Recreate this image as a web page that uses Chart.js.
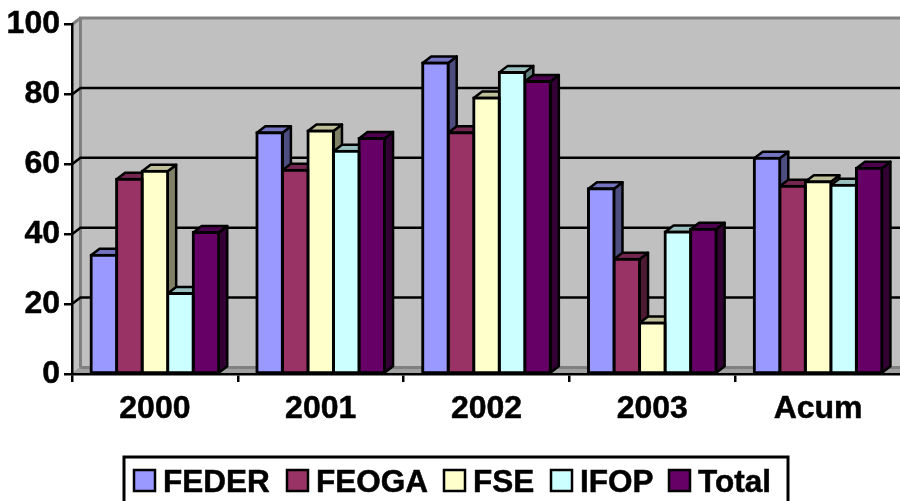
<!DOCTYPE html>
<html lang="en">

<head>
    <meta charset="UTF-8">
    <title>Chart</title>
    <style>
        html, body { margin: 0; padding: 0; background: #fff; overflow: hidden; }
        #wrap { width: 900px; height: 501px; overflow: hidden; }
    </style>
</head>

<body>
    <div id="wrap"><canvas id="myCanvas" width="911" height="501"></canvas></div>

    <script src="https://cdnjs.cloudflare.com/ajax/libs/Chart.js/4.4.1/chart.umd.js"></script>
    <script>
        const categories = ['2000', '2001', '2002', '2003', 'Acum'];
        const feder = [34, 69, 89, 53, 61.7];
        const feoga = [55.7, 58.3, 69, 32.8, 53.7];
        const fse = [58, 69.5, 79, 14.6, 55];
        const ifop = [23, 63.7, 86.3, 40.6, 54];
        const total = [40.5, 67.4, 83.7, 41.4, 58.9];

        const seriesNames = ['FEDER', 'FEOGA', 'FSE', 'IFOP', 'Total'];
        const seriesValues = [feder, feoga, fse, ifop, total];
        const front = ['#9999ff', '#993366', '#ffffcc', '#ccffff', '#660066'];
        const tops = ['#7373bf', '#732650', '#bfbf99', '#99bfbf', '#4d004d'];
        const sides = ['#4d4d80', '#4d1a33', '#808066', '#668080', '#330033'];

        // depth of the fake 3d
        const dx = 8.5;
        const dy = 6.5;
        const font = 'bold 31.5px "Liberation Sans", Arial, sans-serif';
        const legendBoxX = [134, 287, 444, 551, 669];

        function poly(ctx, pts, fill, stroke, lw) {
            ctx.beginPath();
            pts.forEach((p, i) => i ? ctx.lineTo(p[0], p[1]) : ctx.moveTo(p[0], p[1]));
            ctx.closePath();
            if (fill) { ctx.fillStyle = fill; ctx.fill(); }
            if (stroke) { ctx.strokeStyle = stroke; ctx.lineWidth = lw; ctx.stroke(); }
        }

        const walls = {
            id: 'walls',
            beforeDraw(chart) {
                const ctx = chart.ctx;
                const a = chart.chartArea;
                const y = chart.scales.y;
                ctx.save();
                // back wall, side wall, floor
                poly(ctx, [[a.left + dx, a.top - dy], [a.right + dx, a.top - dy], [a.right + dx, a.bottom - dy], [a.left + dx, a.bottom - dy]], '#c0c0c0');
                poly(ctx, [[a.left, a.top], [a.left + dx, a.top - dy], [a.left + dx, a.bottom - dy], [a.left, a.bottom]], '#c0c0c0', '#808080', 1);
                poly(ctx, [[a.left, a.bottom], [a.left + dx, a.bottom - dy], [a.right + dx, a.bottom - dy], [a.right, a.bottom]], '#a0a0a0');
                ctx.strokeStyle = '#808080';
                ctx.lineWidth = 3;
                ctx.beginPath();
                ctx.moveTo(a.left + dx, a.bottom - dy);
                ctx.lineTo(a.left + dx, a.top - dy);
                ctx.lineTo(a.right + dx, a.top - dy);
                ctx.moveTo(a.left + dx, a.bottom - dy);
                ctx.lineTo(a.right + dx, a.bottom - dy);
                ctx.moveTo(a.left, a.top);
                ctx.lineTo(a.left + dx, a.top - dy);
                ctx.stroke();
                // grid lines on the wall
                ctx.strokeStyle = '#000';
                ctx.lineWidth = 2.5;
                y.ticks.forEach(t => {
                    if (t.value === 0 || t.value === 100) return;
                    const py = y.getPixelForValue(t.value);
                    ctx.beginPath();
                    ctx.moveTo(a.left, py);
                    ctx.lineTo(a.left + dx, py - dy);
                    ctx.lineTo(a.right + dx, py - dy);
                    ctx.stroke();
                });
                ctx.restore();
            },
            // top and side faces, left to right, before any of the fronts
            beforeDatasetsDraw(chart) {
                const ctx = chart.ctx;
                ctx.save();
                ctx.lineJoin = 'round';
                seriesNames.forEach((name, i) => {
                    chart.getDatasetMeta(i).data.forEach(bar => {
                        const l = bar.x - bar.width / 2;
                        const r = bar.x + bar.width / 2;
                        const t = bar.y;
                        const b = bar.base;
                        poly(ctx, [[r, t], [r + dx, t - dy], [r + dx, b - dy], [r, b]], sides[i], '#000', 2.5);
                        poly(ctx, [[l, t], [l + dx, t - dy], [r + dx, t - dy], [r, t]], tops[i], '#000', 2.5);
                    });
                });
                ctx.restore();
            }
        };

        // legend drawn by hand: the frame is cut by the bottom of the picture
        const legendFrame = {
            id: 'legendFrame',
            afterDraw(chart) {
                const ctx = chart.ctx;
                ctx.save();
                ctx.strokeStyle = '#000';
                ctx.lineWidth = 3;
                ctx.strokeRect(124, 457, 664, 60);
                ctx.font = font;
                ctx.textBaseline = 'alphabetic';
                seriesNames.forEach((name, i) => {
                    const x = legendBoxX[i];
                    ctx.fillStyle = front[i];
                    ctx.fillRect(x, 470, 21, 21);
                    ctx.lineWidth = 2.5;
                    ctx.strokeRect(x, 470, 21, 21);
                    ctx.fillStyle = '#000';
                    ctx.lineWidth = 0.5;
                    ctx.fillText(name, x + 29, 492);
                    ctx.strokeText(name, x + 29, 492);
                });
                ctx.restore();
            }
        };

        new Chart(document.getElementById('myCanvas').getContext('2d'), {
            type: 'bar',
            data: {
                labels: categories,
                datasets: seriesNames.map((name, i) => ({
                    label: name,
                    data: seriesValues[i],
                    backgroundColor: front[i],
                    borderColor: '#000',
                    borderWidth: 3,
                    inflateAmount: 1.5,
                    borderSkipped: false,
                    categoryPercentage: 0.77,
                    barPercentage: 1
                }))
            },
            options: {
                responsive: false,
                animation: false,
                layout: { padding: { top: 24.5, right: 10, left: 0, bottom: 0 } },
                plugins: {
                    legend: { display: false },
                    tooltip: { enabled: false },
                    title: { display: false }
                },
                scales: {
                    y: {
                        min: 0,
                        max: 100,
                        afterFit: s => { s.width = 72; },
                        ticks: {
                            stepSize: 20,
                            color: '#000',
                            padding: 4,
                            textStrokeColor: '#000',
                            textStrokeWidth: 0.5,
                            font: { family: '"Liberation Sans"', weight: 'bold', size: 32 }
                        },
                        border: { color: '#000', width: 2.5 },
                        grid: { drawOnChartArea: false, tickLength: 8, color: '#000', lineWidth: 2.5 }
                    },
                    x: {
                        afterFit: s => { s.height = 127; },
                        ticks: {
                            color: '#000',
                            padding: 8,
                            maxRotation: 0,
                            textStrokeColor: '#000',
                            textStrokeWidth: 0.5,
                            font: { family: '"Liberation Sans"', weight: 'bold', size: 32 }
                        },
                        border: { color: '#000', width: 2.5 },
                        grid: { drawOnChartArea: false, tickLength: 8, color: '#000', lineWidth: 2.5 }
                    }
                }
            },
            plugins: [walls, legendFrame]
        });
    </script>
</body>

</html>
